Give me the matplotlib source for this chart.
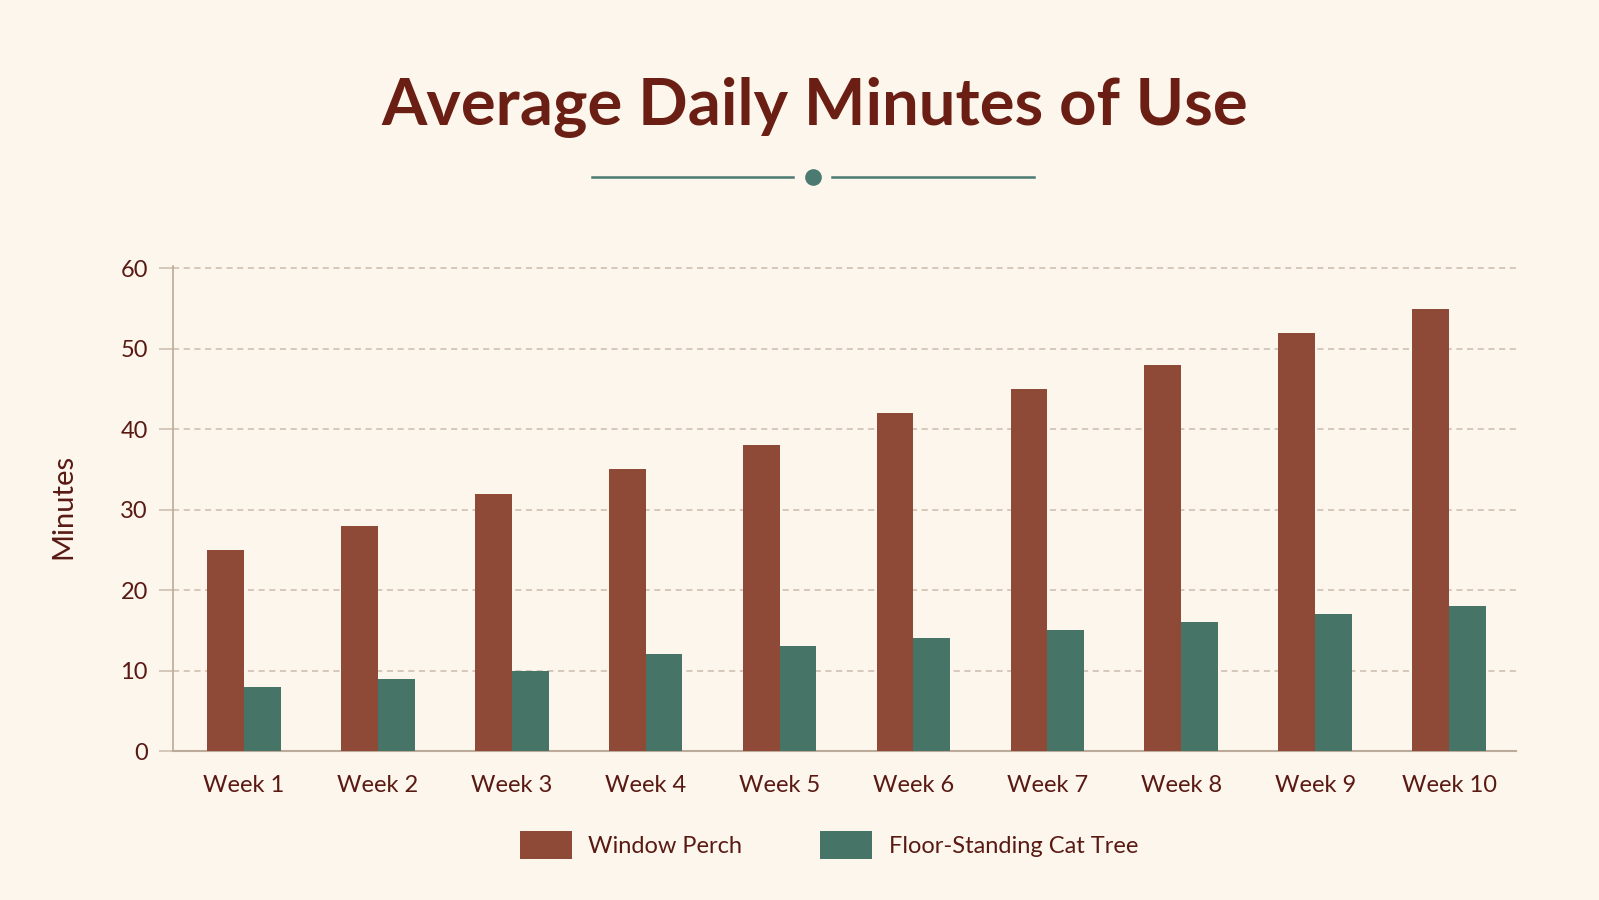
import matplotlib
matplotlib.use("Agg")
import matplotlib.pyplot as plt
import numpy as np
from matplotlib.patches import Patch
from matplotlib.lines import Line2D

categories = ["Week 1", "Week 2", "Week 3", "Week 4", "Week 5",
              "Week 6", "Week 7", "Week 8", "Week 9", "Week 10"]
window_perch = [25, 28, 32, 35, 38, 42, 45, 48, 52, 55]
cat_tree = [8, 9, 10, 12, 13, 14, 15, 16, 17, 18]
series_names = ["Window Perch", "Floor-Standing Cat Tree"]
y_ticks = [0, 10, 20, 30, 40, 50, 60]

BG = "#fcf6ec"
RED = "#8f4a37"
GREEN = "#467466"
TEXT = "#5a1a14"
TITLE = "#6b1f14"
GRID = "#cbbcae"
SPINE = "#bcaa9a"
TEAL = "#4a7a70"

plt.rcParams['font.family'] = ['Lato', 'DejaVu Sans']

W, H = 1599, 900
fig = plt.figure(figsize=(W / 100, H / 100), dpi=100, facecolor=BG)

# axes placement in pixels
left, right, top, bottom = 173, 1516, 266, 751
ax = fig.add_axes([left / W, 1 - bottom / H, (right - left) / W, (bottom - top) / H])
ax.set_facecolor(BG)

x = np.arange(len(categories))
bw = 0.275
ax.bar(x - bw / 2, window_perch, bw, color=RED, label=series_names[0], zorder=3)
ax.bar(x + bw / 2, cat_tree, bw, color=GREEN, label=series_names[1], zorder=3)

ax.set_xlim(-0.53, 9.5)
ax.set_ylim(0, 60.3)
ax.set_yticks(y_ticks)
ax.set_xticks(x)
ax.set_xticklabels(categories)

ax.yaxis.grid(True, linestyle=(0, (4, 3)), color=GRID, linewidth=1.1, zorder=0)
ax.xaxis.grid(False)
for s in ["top", "right"]:
    ax.spines[s].set_visible(False)
ax.spines["left"].set_color(SPINE)
ax.spines["bottom"].set_color(SPINE)
ax.spines["left"].set_linewidth(1.2)
ax.spines["bottom"].set_linewidth(1.5)
ax.tick_params(axis="y", length=10, color=GRID, width=1.1, labelsize=17, labelcolor=TEXT, pad=8)
ax.tick_params(axis="x", length=0, labelsize=17, labelcolor=TEXT, pad=17)

ax.set_ylabel("Minutes", fontsize=21, color=TEXT)
ax.yaxis.set_label_coords(-0.072, 0.505)

# title
fig.text(815 / W, 1 - 107 / H, "Average Daily Minutes of Use", ha="center", va="center",
         fontsize=47, fontweight="bold", color=TITLE)

# decorative divider
y_div = 1 - 177 / H
fig.add_artist(Line2D([592 / W, 793 / W], [y_div, y_div], color=TEAL, linewidth=1.8))
fig.add_artist(Line2D([832 / W, 1034 / W], [y_div, y_div], color=TEAL, linewidth=1.8))
fig.add_artist(Line2D([812.5 / W], [y_div], marker="o", markersize=12, color=TEAL,
                      markeredgewidth=0))

handles = [Patch(facecolor=RED, label=series_names[0]),
           Patch(facecolor=GREEN, label=series_names[1])]
fig.legend(handles=handles, loc="center", bbox_to_anchor=(829 / W, 1 - 845 / H), ncol=2,
           frameon=False, fontsize=17, labelcolor=TEXT, handlelength=2.2, handleheight=1.4,
           handletextpad=0.7, columnspacing=3.3)

fig.savefig("out.png", dpi=100, facecolor=BG)
